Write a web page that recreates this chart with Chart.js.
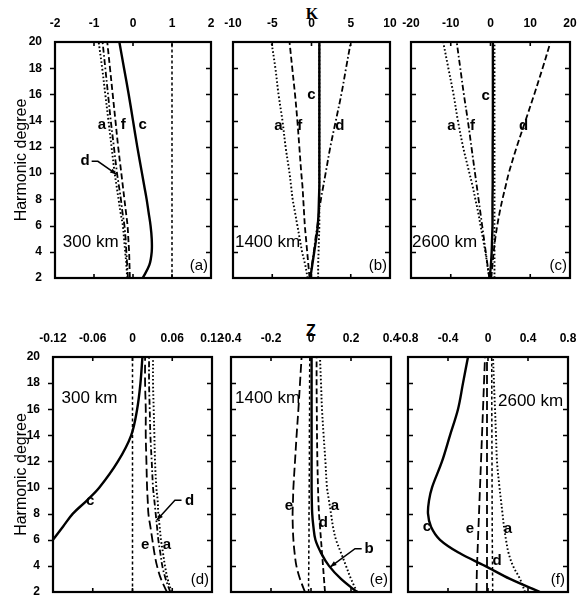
<!DOCTYPE html>
<html><head><meta charset="utf-8">
<script src="https://cdn.jsdelivr.net/npm/chart.js@4"></script>
<style>
html,body{margin:0;padding:0;background:#fff;width:585px;height:597px;overflow:hidden;position:relative;font-family:"Liberation Sans",Arial,sans-serif}
canvas{position:absolute}
.ttl{position:absolute;font-size:16px;color:#000;transform:translate(-50%,-50%)}
</style></head><body>
<div class="ttl" style="left:312px;top:14px;font-family:'Liberation Serif',serif;font-weight:bold">K</div>
<div class="ttl" style="left:311px;top:331px;font-weight:bold">Z</div>
<script>
// ---------- DATA ----------
const degrees = [2,3,4,5,6,7,8,9,10,12,14,16,18,20];
const yTicks = [2,4,6,8,10,12,14,16,18,20];

// K, 300 km (panel a)
const xTicksA = [-2,-1,0,1,2];           const xLabelsA = ['-2','-1','0','1','2'];
const K300_a = [-0.15,-0.17,-0.2,-0.23,-0.26,-0.32,-0.37,-0.42,-0.47,-0.55,-0.63,-0.71,-0.79,-0.88];
const K300_d = [-0.13,-0.15,-0.17,-0.19,-0.22,-0.27,-0.31,-0.36,-0.41,-0.49,-0.57,-0.64,-0.71,-0.78];
const K300_f = [-0.08,-0.09,-0.1,-0.12,-0.14,-0.18,-0.22,-0.26,-0.3,-0.38,-0.45,-0.52,-0.59,-0.66];
const K300_c = [0.25,0.42,0.48,0.48,0.45,0.4,0.35,0.29,0.23,0.11,0.0,-0.11,-0.23,-0.35];
const K300_b = [1,1,1,1,1,1,1,1,1,1,1,1,1,1];

// K, 1400 km (panel b)
const xTicksB = [-10,-5,0,5,10];         const xLabelsB = ['-10','-5','0','5','10'];
const K1400_a = [-0.5,-0.8,-1.2,-1.5,-1.8,-2.1,-2.4,-2.6,-2.8,-3.3,-3.7,-4.2,-4.6,-5.1];
const K1400_f = [-0.25,-0.4,-0.55,-0.7,-0.85,-0.95,-1.05,-1.15,-1.3,-1.55,-1.8,-2.1,-2.45,-2.8];
const K1400_d = [-0.2,0.05,0.3,0.5,0.75,0.95,1.2,1.5,1.8,2.4,3.1,3.8,4.4,5.0];
const K1400_c = [-0.15,0.1,0.35,0.6,0.8,0.9,0.95,1,1,1,1,1,1,1];
const K1400_b = [0.85,0.85,0.9,0.95,1,1,1,1,1,1,1,1,1,1];

// K, 2600 km (panel c)
const xTicksC = [-20,-10,0,10,20];       const xLabelsC = ['-20','-10','0','10','20'];
const K2600_a = [-0.3,-0.8,-1.3,-1.9,-2.5,-3.1,-3.8,-4.5,-5.3,-6.9,-8.2,-9.3,-10.6,-11.9];
const K2600_f = [-0.3,-0.75,-1.2,-1.65,-2.1,-2.55,-3.0,-3.45,-3.9,-4.8,-5.7,-6.7,-7.6,-8.5];
const K2600_d = [0.2,0.5,0.8,1.2,1.7,2.3,3.0,3.8,4.6,6.6,8.8,11.0,13.1,15.1];
const K2600_c = [-0.2,0.1,0.3,0.4,0.5,0.5,0.5,0.55,0.55,0.55,0.6,0.6,0.6,0.6];
const K2600_b = [1,1,1,1,1,1,1,1,1,1,1,1,1,1];

// Z, 300 km (panel d)
const xTicksD = [-0.12,-0.06,0,0.06,0.12]; const xLabelsD = ['-0.12','-0.06','0','0.06','0.12'];
const Z300_c = [null,null,null,null,-0.12,-0.105,-0.09,-0.069,-0.05,-0.022,-0.002,0.007,0.012,0.015];
const Z300_e = [0.052,0.043,0.037,0.033,0.03,0.027,0.024,0.023,0.022,0.021,0.02,0.02,0.019,0.019];
const Z300_d = [0.057,0.05,0.045,0.042,0.039,0.037,0.035,0.033,0.031,0.029,0.027,0.026,0.025,0.025];
const Z300_a = [0.059,0.053,0.049,0.046,0.043,0.041,0.039,0.038,0.036,0.034,0.033,0.032,0.031,0.031];
const Z300_b = [0,0,0,0,0,0,0,0,0,0,0,0,0,0];

// Z, 1400 km (panel e)
const xTicksE = [-0.4,-0.2,0,0.2,0.4];   const xLabelsE = ['-0.4','-0.2','0','0.2','0.4'];
const Z1400_b = [0.23,0.15,0.09,0.05,0.022,0.012,0.006,0.004,0.003,0.003,0.003,0.003,0.003,0.003];
const Z1400_a = [0.23,0.2,0.175,0.15,0.125,0.11,0.1,0.09,0.08,0.072,0.063,0.055,0.05,0.045];
const Z1400_d = [0.07,0.065,0.06,0.055,0.05,0.045,0.04,0.037,0.035,0.032,0.03,0.029,0.028,0.028];
const Z1400_e = [-0.03,-0.055,-0.073,-0.082,-0.088,-0.091,-0.092,-0.09,-0.088,-0.08,-0.072,-0.063,-0.055,-0.047];
const Z1400_c = [-0.012,-0.012,-0.011,-0.011,-0.01,-0.01,-0.01,-0.009,-0.009,-0.008,-0.008,-0.007,-0.007,-0.006];

// Z, 2600 km (panel f)
const xTicksF = [-0.8,-0.4,0,0.4,0.8];   const xLabelsF = ['-0.8','-0.4','0','0.4','0.8'];
const Z2600_c = [0.52,0.22,-0.03,-0.29,-0.48,-0.57,-0.6,-0.59,-0.56,-0.46,-0.38,-0.3,-0.25,-0.2];
const Z2600_e = [-0.115,-0.113,-0.11,-0.105,-0.1,-0.095,-0.09,-0.085,-0.08,-0.07,-0.06,-0.05,-0.04,-0.03];
const Z2600_b = [-0.01,-0.01,-0.01,-0.01,-0.01,-0.01,-0.01,-0.01,-0.01,-0.01,-0.01,-0.01,-0.01,-0.01];
const Z2600_d = [0.047,0.046,0.045,0.044,0.043,0.042,0.042,0.041,0.041,0.04,0.039,0.038,0.038,0.037];
const Z2600_a = [0.37,0.32,0.25,0.205,0.18,0.16,0.145,0.13,0.115,0.09,0.08,0.07,0.06,0.05];

// ---------- STYLE ----------
const FAM = "'Liberation Sans', Arial, sans-serif";
Chart.defaults.font.family = FAM;
Chart.defaults.color = '#000';
const STY = {
  solid:{dash:[],w:2.4}, dot:{dash:[1.6,2.2],w:1.9}, dash:{dash:[6,3],w:1.8},
  dashdot:{dash:[6,2.5,1.6,2.5],w:1.8}, longdash:{dash:[9,4],w:1.8}, short:{dash:[3,2.5],w:1.5}
};

const deco = {
  id:'deco',
  afterDatasetsDraw(chart, args, o){
    const {ctx, chartArea:a, scales:{x, y}} = chart;
    ctx.save();
    ctx.strokeStyle = '#000'; ctx.fillStyle = '#000';
    ctx.lineWidth = 2.2; ctx.setLineDash([]);
    ctx.strokeRect(a.left, a.top, a.right - a.left, a.bottom - a.top);
    ctx.lineWidth = 1.6;
    ctx.beginPath();
    y.ticks.forEach(t => {
      if (t.value <= 2 || t.value >= 20) return;
      const py = Math.round(y.getPixelForValue(t.value)) + 0.5;
      if (o.leftOut) { ctx.moveTo(a.left - 5, py); ctx.lineTo(a.left, py); }
      else { ctx.moveTo(a.left, py); ctx.lineTo(a.left + 5, py); }
      ctx.moveTo(a.right, py); ctx.lineTo(a.right - 5, py);
    });
    x.ticks.forEach(t => {
      const px = x.getPixelForValue(t.value);
      if (px <= a.left + 2 || px >= a.right - 2) return;
      ctx.moveTo(px, a.top); ctx.lineTo(px, a.top + 4);
      ctx.moveTo(px, a.bottom); ctx.lineTo(px, a.bottom - 4);
    });
    ctx.stroke();
    // curve labels
    ctx.font = 'bold 15px ' + FAM; ctx.textAlign = 'center'; ctx.textBaseline = 'middle';
    (o.labels || []).forEach(l => ctx.fillText(l.t, x.getPixelForValue(l.x), y.getPixelForValue(l.y)));
    // arrows
    (o.arrows || []).forEach(pts => {
      const P = pts.map(p => [x.getPixelForValue(p[0]), y.getPixelForValue(p[1])]);
      ctx.beginPath(); ctx.lineWidth = 1.5;
      P.forEach((p, i) => i ? ctx.lineTo(p[0], p[1]) : ctx.moveTo(p[0], p[1]));
      ctx.stroke();
      const [p1, p2] = [P[P.length - 2], P[P.length - 1]];
      const ang = Math.atan2(p2[1] - p1[1], p2[0] - p1[0]);
      ctx.beginPath();
      ctx.moveTo(p2[0], p2[1]);
      ctx.lineTo(p2[0] - 7 * Math.cos(ang - 0.35), p2[1] - 7 * Math.sin(ang - 0.35));
      ctx.lineTo(p2[0] - 7 * Math.cos(ang + 0.35), p2[1] - 7 * Math.sin(ang + 0.35));
      ctx.closePath(); ctx.fill();
    });
    // depth label
    if (o.depth) {
      ctx.font = '17px ' + FAM; ctx.textAlign = 'left'; ctx.textBaseline = 'middle';
      ctx.fillText(o.depth.t, x.getPixelForValue(o.depth.x), y.getPixelForValue(o.depth.y));
    }
    if (o.tag) {
      ctx.font = '15px ' + FAM; ctx.textAlign = 'right'; ctx.textBaseline = 'middle';
      ctx.fillText(o.tag, a.right - 3, a.bottom - 12);
    }
    ctx.restore();
  }
};

function makePanel(rect, xMin, xMax, xTicks, xLabels, series, decoOpts, showY) {
  const padL = showY ? rect.l : 22, padT = 30, padR = 18, padB = 4;
  const cv = document.createElement('canvas');
  cv.width = rect.w + padL + padR; cv.height = rect.h + padT + padB;
  cv.style.left = (rect.l - padL) + 'px'; cv.style.top = (rect.t - padT) + 'px';
  cv.style.width = cv.width + 'px'; cv.style.height = cv.height + 'px';
  document.body.appendChild(cv);
  const datasets = series.map(s => ({
    data: degrees.map((d, i) => ({x: s.v[i], y: d})).filter(p => p.x !== null),
    showLine: true, pointRadius: 0, borderColor: '#000', borderWidth: STY[s.st].w,
    borderDash: STY[s.st].dash, tension: 0.35, fill: false
  }));
  return new Chart(cv, {
    type: 'scatter',
    data: {datasets},
    plugins: [deco],
    options: {
      responsive: false, animation: false, events: [],
      layout: {padding: {left: 0, top: 0, right: padR, bottom: padB}},
      plugins: {legend: {display: false}, tooltip: {enabled: false}, deco: decoOpts},
      scales: {
        x: {type: 'linear', position: 'top', min: xMin, max: xMax,
            grid: {display: false}, border: {display: false},
            ticks: {autoSkip: false, maxRotation: 0, padding: 3, font: {size: 12, weight: 'bold'}, color: '#000',
                    callback: (v, i) => xLabels[i]},
            afterBuildTicks: s => { s.ticks = xTicks.map(v => ({value: v})); },
            afterFit: s => { s.height = padT; s.paddingLeft = 0; s.paddingRight = 0; }},
        y: {type: 'linear', position: 'left', min: 2, max: 20,
            grid: {display: false}, border: {display: false},
            ticks: {display: showY, autoSkip: false, padding: 5, font: {size: 12, weight: 'bold'}, color: '#000'},
            title: {display: showY, text: 'Harmonic degree', font: {size: 16}, color: '#000', padding: {top: 12, bottom: 0}},
            afterBuildTicks: s => { s.ticks = yTicks.map(v => ({value: v})); },
            afterFit: s => { s.width = padL; s.paddingTop = 0; s.paddingBottom = 0; }}
      }
    }
  });
}

makePanel({l:55,t:42,w:156,h:236}, -2, 2, xTicksA, xLabelsA, [
  {v:K300_b, st:'short'}, {v:K300_a, st:'dot'}, {v:K300_d, st:'dashdot'}, {v:K300_f, st:'dash'}, {v:K300_c, st:'solid'}
], {leftOut:true, tag:'(a)', depth:{t:'300 km', x:-1.8, y:4.7},
    labels:[{t:'a',x:-0.8,y:13.7},{t:'f',x:-0.25,y:13.7},{t:'c',x:0.25,y:13.7},{t:'d',x:-1.23,y:10.9}],
    arrows:[[[-1.06,10.9],[-0.9,10.9],[-0.42,9.9]]]}, true);

makePanel({l:233,t:42,w:157,h:236}, -10, 10, xTicksB, xLabelsB, [
  {v:K1400_b, st:'dot'}, {v:K1400_a, st:'dot'}, {v:K1400_f, st:'dash'}, {v:K1400_d, st:'dashdot'}, {v:K1400_c, st:'solid'}
], {tag:'(b)', depth:{t:'1400 km', x:-9.75, y:4.7},
    labels:[{t:'a',x:-4.2,y:13.6},{t:'f',x:-1.5,y:13.6},{t:'c',x:0.0,y:16},{t:'d',x:3.6,y:13.6}]}, false);

makePanel({l:411,t:42,w:159,h:236}, -20, 20, xTicksC, xLabelsC, [
  {v:K2600_b, st:'dot'}, {v:K2600_a, st:'dot'}, {v:K2600_f, st:'dashdot'}, {v:K2600_d, st:'dash'}, {v:K2600_c, st:'solid'}
], {tag:'(c)', depth:{t:'2600 km', x:-19.75, y:4.7},
    labels:[{t:'a',x:-9.8,y:13.6},{t:'f',x:-4.5,y:13.6},{t:'c',x:-1.2,y:15.9},{t:'d',x:8.3,y:13.6}]}, false);

makePanel({l:53,t:357,w:159,h:235}, -0.12, 0.12, xTicksD, xLabelsD, [
  {v:Z300_b, st:'short'}, {v:Z300_e, st:'longdash'}, {v:Z300_d, st:'dashdot'}, {v:Z300_a, st:'dot'}, {v:Z300_c, st:'solid'}
], {leftOut:true, tag:'(d)', depth:{t:'300 km', x:-0.107, y:16.8},
    labels:[{t:'c',x:-0.064,y:9.0},{t:'d',x:0.086,y:9.0},{t:'e',x:0.019,y:5.6},{t:'a',x:0.052,y:5.6}],
    arrows:[[[0.074,9.02],[0.064,9.02],[0.0365,7.5]]]}, true);

makePanel({l:231,t:357,w:160,h:235}, -0.4, 0.4, xTicksE, xLabelsE, [
  {v:Z1400_c, st:'short'}, {v:Z1400_e, st:'longdash'}, {v:Z1400_d, st:'dash'}, {v:Z1400_a, st:'dot'}, {v:Z1400_b, st:'solid'}
], {tag:'(e)', depth:{t:'1400 km', x:-0.38, y:16.8},
    labels:[{t:'e',x:-0.11,y:8.6},{t:'d',x:0.062,y:7.3},{t:'a',x:0.12,y:8.6},{t:'b',x:0.29,y:5.32}],
    arrows:[[[0.2535,5.32],[0.22,5.32],[0.095,3.91]]]}, false);

makePanel({l:408,t:357,w:160,h:235}, -0.8, 0.8, xTicksF, xLabelsF, [
  {v:Z2600_b, st:'longdash'}, {v:Z2600_e, st:'longdash'}, {v:Z2600_d, st:'short'}, {v:Z2600_a, st:'dot'}, {v:Z2600_c, st:'solid'}
], {tag:'(f)', depth:{t:'2600 km', x:0.1, y:16.6},
    labels:[{t:'c',x:-0.61,y:7.0},{t:'e',x:-0.18,y:6.85},{t:'a',x:0.2,y:6.85},{t:'d',x:0.09,y:4.4}]}, false);
</script>
</body></html>
